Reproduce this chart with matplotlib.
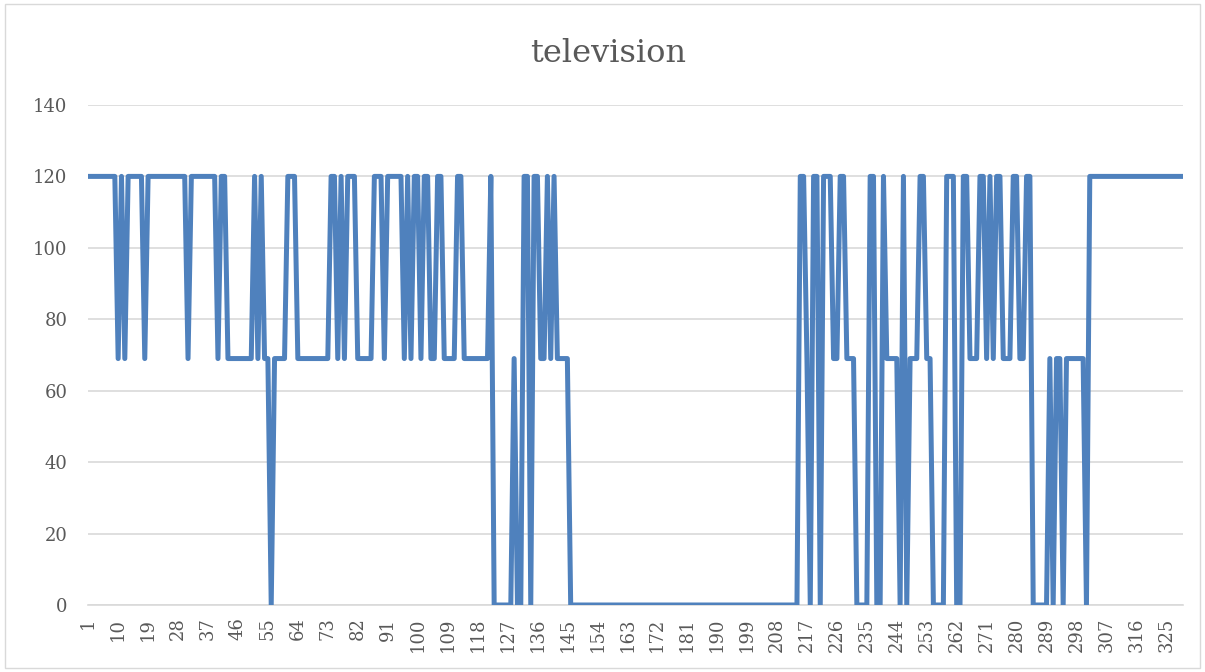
import numpy as np
import matplotlib
matplotlib.use("Agg")
import matplotlib.pyplot as plt
from matplotlib.patches import Rectangle

# values, one per category 1..330
tv = [
    120, 120, 120, 120, 120, 120, 120, 120, 120, 69,
    120, 69, 120, 120, 120, 120, 120, 69, 120, 120,
    120, 120, 120, 120, 120, 120, 120, 120, 120, 120,
    69, 120, 120, 120, 120, 120, 120, 120, 120, 69,
    120, 120, 69, 69, 69, 69, 69, 69, 69, 69,
    120, 69, 120, 69, 69, 0, 69, 69, 69, 69,
    120, 120, 120, 69, 69, 69, 69, 69, 69, 69,
    69, 69, 69, 120, 120, 69, 120, 69, 120, 120,
    120, 69, 69, 69, 69, 69, 120, 120, 120, 69,
    120, 120, 120, 120, 120, 69, 120, 69, 120, 120,
    69, 120, 120, 69, 69, 120, 120, 69, 69, 69,
    69, 120, 120, 69, 69, 69, 69, 69, 69, 69,
    69, 120, 0, 0, 0, 0, 0, 0, 69, 0,
    0, 120, 120, 0, 120, 120, 69, 69, 120, 69,
    120, 69, 69, 69, 69, 0, 0, 0, 0, 0,
    0, 0, 0, 0, 0, 0, 0, 0, 0, 0,
    0, 0, 0, 0, 0, 0, 0, 0, 0, 0,
    0, 0, 0, 0, 0, 0, 0, 0, 0, 0,
    0, 0, 0, 0, 0, 0, 0, 0, 0, 0,
    0, 0, 0, 0, 0, 0, 0, 0, 0, 0,
    0, 0, 0, 0, 0, 0, 0, 0, 0, 0,
    0, 0, 0, 0, 120, 120, 69, 0, 120, 120,
    0, 120, 120, 120, 69, 69, 120, 120, 69, 69,
    69, 0, 0, 0, 0, 120, 120, 0, 0, 120,
    69, 69, 69, 69, 0, 120, 0, 69, 69, 69,
    120, 120, 69, 69, 0, 0, 0, 0, 120, 120,
    120, 0, 0, 120, 120, 69, 69, 69, 120, 120,
    69, 120, 69, 120, 120, 69, 69, 69, 120, 120,
    69, 69, 120, 120, 0, 0, 0, 0, 0, 69,
    0, 69, 69, 0, 69, 69, 69, 69, 69, 69,
    0, 120, 120, 120, 120, 120, 120, 120, 120, 120,
    120, 120, 120, 120, 120, 120, 120, 120, 120, 120,
    120, 120, 120, 120, 120, 120, 120, 120, 120, 120,
]
x = np.arange(1, len(tv) + 1)
xtick_vals = list(range(1, len(tv) + 1, 9))
yticks = [0, 20, 40, 60, 80, 100, 120, 140]

fig = plt.figure(figsize=(12.05, 6.72), dpi=100)
fig.patches.append(Rectangle((0.004, 0.006), 0.992, 0.988, transform=fig.transFigure,
                             fill=False, edgecolor='#d9d9d9', linewidth=1))
ax = fig.add_axes([0.0732, 0.0997, 0.9085, 0.7441])

ax.plot(x, tv, color='#4f81bd', linewidth=3.6, solid_joinstyle='round',
        solid_capstyle='round', zorder=3)

ax.set_xlim(1, len(tv))
ax.set_ylim(0, 140)
ax.set_yticks(yticks)
ax.set_xticks(xtick_vals)
ax.set_xticklabels([str(v) for v in xtick_vals], rotation=90)
ax.grid(axis='y', color='#d9d9d9', linewidth=1.2)
ax.set_axisbelow(True)
for s in ['top', 'right', 'left']:
    ax.spines[s].set_visible(False)
ax.spines['bottom'].set_color('#d9d9d9')
ax.spines['bottom'].set_linewidth(1.2)
ax.tick_params(axis='both', length=0, labelsize=13, colors='#595959')
ax.tick_params(axis='y', pad=15)
ax.tick_params(axis='x', pad=9)
for lbl in ax.get_xticklabels() + ax.get_yticklabels():
    lbl.set_family('DejaVu Serif')

fig.text(0.505, 0.921, 'television', ha='center', va='center', fontsize=23,
         color='#595959', family='DejaVu Serif')

fig.savefig('out.png', dpi=100)
